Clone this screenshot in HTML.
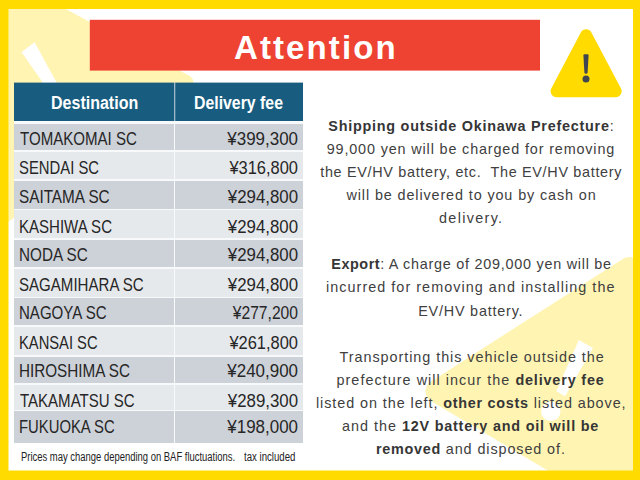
<!DOCTYPE html>
<html><head><meta charset="utf-8">
<style>
html,body{margin:0;padding:0;}
body{width:640px;height:480px;overflow:hidden;position:relative;background:#fff;font-family:"Liberation Sans",sans-serif;}
svg.bg{position:absolute;left:0;top:0;}
.t{position:absolute;white-space:nowrap;}
.row{position:absolute;}
.tx{font-size:17.5px;line-height:17.5px;color:#262626;}
.rt{font-size:14.4px;line-height:14.4px;color:#404040;}
.rt b{font-weight:bold;color:#363636;}
</style></head><body>
<svg class="bg" width="640" height="480" viewBox="0 0 640 480">
  <rect x="0" y="0" width="640" height="480" fill="#ffffff"/>
  <path d="M189.28,75.69 A8,8 0 0 1 190.20,89.19 L-197.97,372.55 A1,1 0 0 1 -199.56,371.74 L-199.56,-132.61 A1,1 0 0 1 -198.09,-133.49 Z" fill="#FFF4B2"/>
  <polygon points="21.5,52 34.6,42.2 60.7,90 47.9,90" fill="#ffffff"/>
  <path d="M431.13,401.27 A11.5,11.5 0 0 1 430.81,381.69 L623.65,258.47 A10,10 0 0 1 639.01,266.30 L654.33,522.96 A6,6 0 0 1 645.27,528.47 Z" fill="#FFF4B2"/>
  <polygon points="578.8,340 593,348 565,396.3 556.3,391.3" fill="#ffffff"/>
  <circle cx="550.8" cy="411.3" r="9.75" fill="#ffffff"/>
  <path d="M0,0H640V480H0Z M8.5,9V470.6H633V9Z" fill="#FFDB00" fill-rule="evenodd"/>
  <rect x="89.8" y="19.8" width="450.2" height="50.8" fill="#EE4332"/>
  <rect x="14" y="83" width="289" height="360" fill="#F8F9FA"/>
  <rect x="14" y="82.6" width="160" height="38.4" fill="#185D80"/>
  <rect x="174" y="82.6" width="1.2" height="38.4" fill="#9DB8C6"/>
  <rect x="175.2" y="82.6" width="127.8" height="38.4" fill="#185D80"/>
  <path d="M580.80,32.44 A6,6 0 0 1 591.41,32.44 L620.99,88.40 A6,6 0 0 1 615.69,97.20 L556.55,97.20 A6,6 0 0 1 551.25,88.40 Z" fill="#FFDB00"/>
  <path d="M583.4,55.5 Q583.4,54.3 584.6,54.3 L587.4,54.3 Q588.6,54.3 588.6,55.5 L587.6,72.6 Q587.5,73.8 586,73.8 Q584.5,73.8 584.4,72.6 Z" fill="#3F4650"/>
  <circle cx="586" cy="78.9" r="3.5" fill="#3F4650"/>
</svg>
<div class="t" style="left:234px;top:29px;font-size:33px;font-weight:bold;color:#fff;letter-spacing:2.1px;">Attention</div>
<div class="t" style="left:51px;top:92.5px;font-size:18px;font-weight:bold;color:#fff;transform:scaleX(0.89);transform-origin:0 0;">Destination</div>
<div class="t" style="left:194px;top:92.5px;font-size:18px;font-weight:bold;color:#fff;transform:scaleX(0.88);transform-origin:0 0;">Delivery fee</div>
<div class="row" style="left:14px;top:123.7px;width:160px;height:26.60px;background:#CDD1D8"></div>
<div class="row" style="left:175.2px;top:123.7px;width:127.8px;height:26.60px;background:#CDD1D8"></div>
<div class="t tx" style="left:19.60px;top:131.19px;transform:scaleX(0.8600);transform-origin:0 0;">TOMAKOMAI SC</div>
<div class="t tx" style="right:342.00px;top:131.19px;transform:scaleX(0.9686);transform-origin:100% 0;">¥399,300</div>
<div class="row" style="left:14px;top:151.7px;width:160px;height:27.60px;background:#E6E9EC"></div>
<div class="row" style="left:175.2px;top:151.7px;width:127.8px;height:27.60px;background:#E6E9EC"></div>
<div class="t tx" style="left:18.60px;top:160.09px;transform:scaleX(0.8481);transform-origin:0 0;">SENDAI SC</div>
<div class="t tx" style="right:342.00px;top:160.09px;transform:scaleX(0.9392);transform-origin:100% 0;">¥316,800</div>
<div class="row" style="left:14px;top:181.2px;width:160px;height:27.50px;background:#CDD1D8"></div>
<div class="row" style="left:175.2px;top:181.2px;width:127.8px;height:27.50px;background:#CDD1D8"></div>
<div class="t tx" style="left:18.60px;top:189.19px;transform:scaleX(0.8739);transform-origin:0 0;">SAITAMA SC</div>
<div class="t tx" style="right:342.00px;top:189.19px;transform:scaleX(0.9617);transform-origin:100% 0;">¥294,800</div>
<div class="row" style="left:14px;top:210.3px;width:160px;height:27.70px;background:#E6E9EC"></div>
<div class="row" style="left:175.2px;top:210.3px;width:127.8px;height:27.70px;background:#E6E9EC"></div>
<div class="t tx" style="left:18.60px;top:218.69px;transform:scaleX(0.8591);transform-origin:0 0;">KASHIWA SC</div>
<div class="t tx" style="right:342.00px;top:218.69px;transform:scaleX(0.9615);transform-origin:100% 0;">¥294,800</div>
<div class="row" style="left:14px;top:240.0px;width:160px;height:27.20px;background:#CDD1D8"></div>
<div class="row" style="left:175.2px;top:240.0px;width:127.8px;height:27.20px;background:#CDD1D8"></div>
<div class="t tx" style="left:18.60px;top:247.44px;transform:scaleX(0.8718);transform-origin:0 0;">NODA SC</div>
<div class="t tx" style="right:342.00px;top:247.44px;transform:scaleX(0.9617);transform-origin:100% 0;">¥294,800</div>
<div class="row" style="left:14px;top:268.7px;width:160px;height:28.00px;background:#E6E9EC"></div>
<div class="row" style="left:175.2px;top:268.7px;width:127.8px;height:28.00px;background:#E6E9EC"></div>
<div class="t tx" style="left:18.60px;top:276.69px;transform:scaleX(0.8607);transform-origin:0 0;">SAGAMIHARA SC</div>
<div class="t tx" style="right:342.00px;top:276.69px;transform:scaleX(0.9615);transform-origin:100% 0;">¥294,800</div>
<div class="row" style="left:14px;top:298.0px;width:160px;height:27.30px;background:#CDD1D8"></div>
<div class="row" style="left:175.2px;top:298.0px;width:127.8px;height:27.30px;background:#CDD1D8"></div>
<div class="t tx" style="left:18.60px;top:305.49px;transform:scaleX(0.8600);transform-origin:0 0;">NAGOYA SC</div>
<div class="t tx" style="right:342.00px;top:305.49px;transform:scaleX(0.8933);transform-origin:100% 0;">¥277,200</div>
<div class="row" style="left:14px;top:327.2px;width:160px;height:28.10px;background:#E6E9EC"></div>
<div class="row" style="left:175.2px;top:327.2px;width:127.8px;height:28.10px;background:#E6E9EC"></div>
<div class="t tx" style="left:18.60px;top:334.89px;transform:scaleX(0.8414);transform-origin:0 0;">KANSAI SC</div>
<div class="t tx" style="right:342.00px;top:334.89px;transform:scaleX(0.9392);transform-origin:100% 0;">¥261,800</div>
<div class="row" style="left:14px;top:356.7px;width:160px;height:26.60px;background:#CDD1D8"></div>
<div class="row" style="left:175.2px;top:356.7px;width:127.8px;height:26.60px;background:#CDD1D8"></div>
<div class="t tx" style="left:18.60px;top:363.49px;transform:scaleX(0.8712);transform-origin:0 0;">HIROSHIMA SC</div>
<div class="t tx" style="right:342.00px;top:363.49px;transform:scaleX(0.9686);transform-origin:100% 0;">¥240,900</div>
<div class="row" style="left:14px;top:385.0px;width:160px;height:24.70px;background:#E6E9EC"></div>
<div class="row" style="left:175.2px;top:385.0px;width:127.8px;height:24.70px;background:#E6E9EC"></div>
<div class="t tx" style="left:19.60px;top:393.19px;transform:scaleX(0.8585);transform-origin:0 0;">TAKAMATSU SC</div>
<div class="t tx" style="right:342.00px;top:393.19px;transform:scaleX(0.9615);transform-origin:100% 0;">¥289,300</div>
<div class="row" style="left:14px;top:411.2px;width:160px;height:31.60px;background:#CDD1D8"></div>
<div class="row" style="left:175.2px;top:411.2px;width:127.8px;height:31.60px;background:#CDD1D8"></div>
<div class="t tx" style="left:18.60px;top:419.09px;transform:scaleX(0.8482);transform-origin:0 0;">FUKUOKA SC</div>
<div class="t tx" style="right:342.00px;top:419.09px;transform:scaleX(0.9686);transform-origin:100% 0;">¥198,000</div>
<div class="t" style="left:20.5px;top:450px;font-size:12px;color:#222;transform:scaleX(0.787);transform-origin:0 0;">Prices may change depending on BAF fluctuations.</div>
<div class="t" style="left:243.7px;top:450px;font-size:12px;color:#222;transform:scaleX(0.803);transform-origin:0 0;">tax included</div>
<div class="t rt" style="top:118.81px;left:328.30px;letter-spacing:0.951px;"><b style="letter-spacing:0.751px">Shipping outside Okinawa Prefecture</b>:</div>
<div class="t rt" style="top:141.90px;left:326.70px;letter-spacing:0.853px;">99,000 yen will be charged for removing</div>
<div class="t rt" style="top:164.99px;left:320.20px;letter-spacing:0.690px;">the EV/HV battery, etc.&nbsp; The EV/HV battery</div>
<div class="t rt" style="top:188.08px;left:346.50px;letter-spacing:0.882px;">will be delivered to you by cash on</div>
<div class="t rt" style="top:211.17px;left:439.00px;letter-spacing:1.325px;">delivery.</div>
<div class="t rt" style="top:257.35px;left:331.30px;letter-spacing:0.742px;"><b style="letter-spacing:0.542px">Export</b>: A charge of 209,000 yen will be</div>
<div class="t rt" style="top:280.44px;left:326.00px;letter-spacing:1.038px;">incurred for removing and installing the</div>
<div class="t rt" style="top:303.53px;left:418.20px;letter-spacing:0.792px;">EV/HV battery.</div>
<div class="t rt" style="top:349.71px;left:339.50px;letter-spacing:0.956px;">Transporting this vehicle outside the</div>
<div class="t rt" style="top:372.80px;left:336.50px;letter-spacing:1.035px;">prefecture will incur the <b style="letter-spacing:0.835px">delivery fee</b></div>
<div class="t rt" style="top:395.89px;left:316.00px;letter-spacing:0.923px;">listed on the left, <b style="letter-spacing:0.723px">other costs</b> listed above,</div>
<div class="t rt" style="top:418.98px;left:342.00px;letter-spacing:0.986px;">and the <b style="letter-spacing:0.786px">12V battery and oil will be</b></div>
<div class="t rt" style="top:442.07px;left:376.00px;letter-spacing:0.900px;"><b style="letter-spacing:0.700px">removed</b> and disposed of.</div>
</body></html>
